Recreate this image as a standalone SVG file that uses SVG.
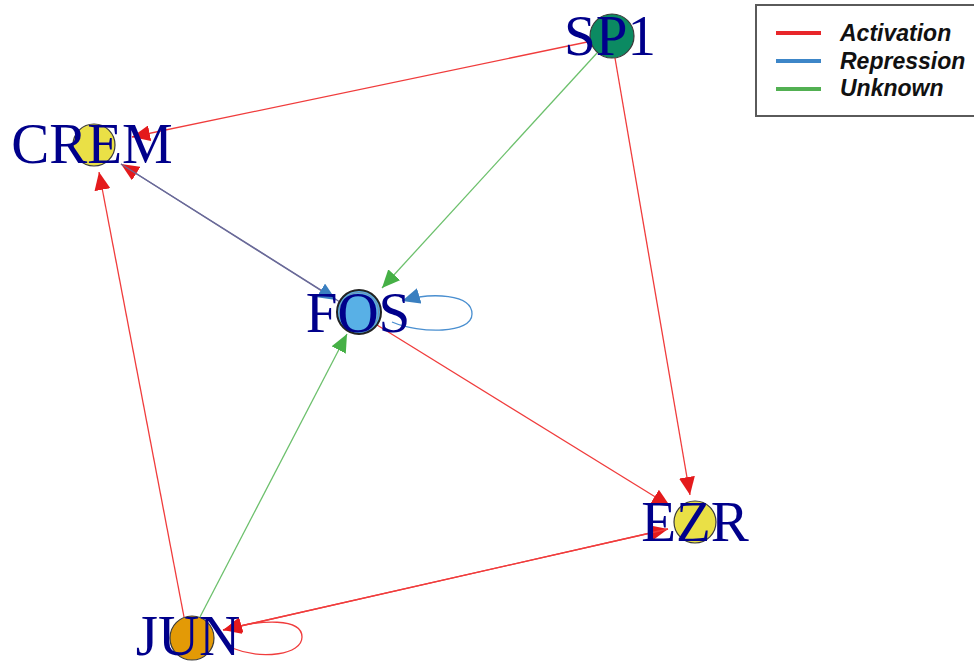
<svg xmlns="http://www.w3.org/2000/svg" width="974" height="666" viewBox="0 0 974 666">
<style>
.edge{fill:none;stroke-width:1.3}
.act{stroke:#f03c3c}
.rep{stroke:#4a8fd0}
.unk{stroke:#6cc06c}
.mix{stroke:#6a6a98}
.node circle{stroke:#3a3a3a;stroke-width:1.2}
.lbl{font-family:"Liberation Serif","Times New Roman",serif;font-size:57px;fill:#00008b;text-anchor:middle}
.leg{font-family:"Liberation Sans",Arial,sans-serif;font-size:23px;font-weight:bold;font-style:italic;fill:#111}
</style>
<defs>
<marker id="ar" markerUnits="userSpaceOnUse" markerWidth="18" markerHeight="16" refX="18" refY="8" orient="auto"><path d="M0,0 L18,8 L0,16 z" fill="#e41a1c"/></marker>
<marker id="ab" markerUnits="userSpaceOnUse" markerWidth="18" markerHeight="16" refX="18" refY="8" orient="auto"><path d="M0,0 L18,8 L0,16 z" fill="#3a7fc0"/></marker>
<marker id="ag" markerUnits="userSpaceOnUse" markerWidth="18" markerHeight="16" refX="18" refY="8" orient="auto"><path d="M0,0 L18,8 L0,16 z" fill="#46b046"/></marker>
</defs>
<rect width="974" height="666" fill="#ffffff"/>
<g id="connectors">
<line class="edge act" x1="592" y1="41" x2="132" y2="137" marker-end="url(#ar)"/>
<line class="edge unk" x1="597" y1="53" x2="382" y2="288" marker-end="url(#ag)"/>
<line class="edge act" x1="615" y1="58" x2="690" y2="495" marker-end="url(#ar)"/>
<line class="edge mix" x1="340" y1="302" x2="121" y2="164" marker-end="url(#ar)"/>
<line class="edge mix" x1="121" y1="164" x2="336" y2="300" marker-end="url(#ab)"/>
<line class="edge act" x1="184" y1="617" x2="99" y2="172" marker-end="url(#ar)"/>
<line class="edge unk" x1="200" y1="617" x2="347" y2="334" marker-end="url(#ag)"/>
<line class="edge act" x1="377" y1="325" x2="670" y2="506" marker-end="url(#ar)"/>
<line class="edge act" x1="223" y1="630" x2="668" y2="529" marker-end="url(#ar)"/>
<line class="edge act" x1="668" y1="529" x2="223" y2="630" marker-end="url(#ar)"/>
<path class="edge act" d="M232,648 C262,660 302,655 302,637 C302,618 262,619 224,630" marker-end="url(#ar)"/>
<path class="edge rep" d="M392,322 C420,334 472,334 472,314 C472,294 432,292 402,301" marker-end="url(#ab)"/>
</g>
<g id="SP1" class="node"><circle cx="612" cy="36" r="22" fill="#0b8a62"/><text class="lbl" x="610" y="55">SP1</text></g>
<g id="CREM" class="node"><circle cx="94" cy="145" r="21" fill="#eae046"/><text class="lbl" x="92" y="163">CREM</text></g>
<g id="FOS" class="node"><circle cx="359" cy="312" r="22" fill="#58b0e6" style="stroke:#222;stroke-width:2"/><circle cx="359" cy="312" r="19.5" fill="none" style="stroke:#7a8a9a;stroke-width:0.8"/><text class="lbl" x="358" y="332">FOS</text></g>
<g id="EZR" class="node"><circle cx="695" cy="522" r="21" fill="#eae046"/><text class="lbl" x="695" y="541">EZR</text></g>
<g id="JUN" class="node"><circle cx="192" cy="638" r="22" fill="#e39a06"/><text class="lbl" x="188" y="655">JUN</text></g>
<g id="legend">
<rect x="756" y="5" width="230" height="111" fill="#ffffff" stroke="#5a5a5a" stroke-width="2"/>
<line x1="776" y1="33" x2="821" y2="33" stroke="#e8262a" stroke-width="4"/>
<line x1="776" y1="61" x2="821" y2="61" stroke="#3d86c8" stroke-width="4"/>
<line x1="776" y1="89" x2="821" y2="89" stroke="#52b052" stroke-width="4"/>
<text class="leg" x="840" y="41">Activation</text>
<text class="leg" x="840" y="69">Repression</text>
<text class="leg" x="840" y="96">Unknown</text>
</g>
</svg>
